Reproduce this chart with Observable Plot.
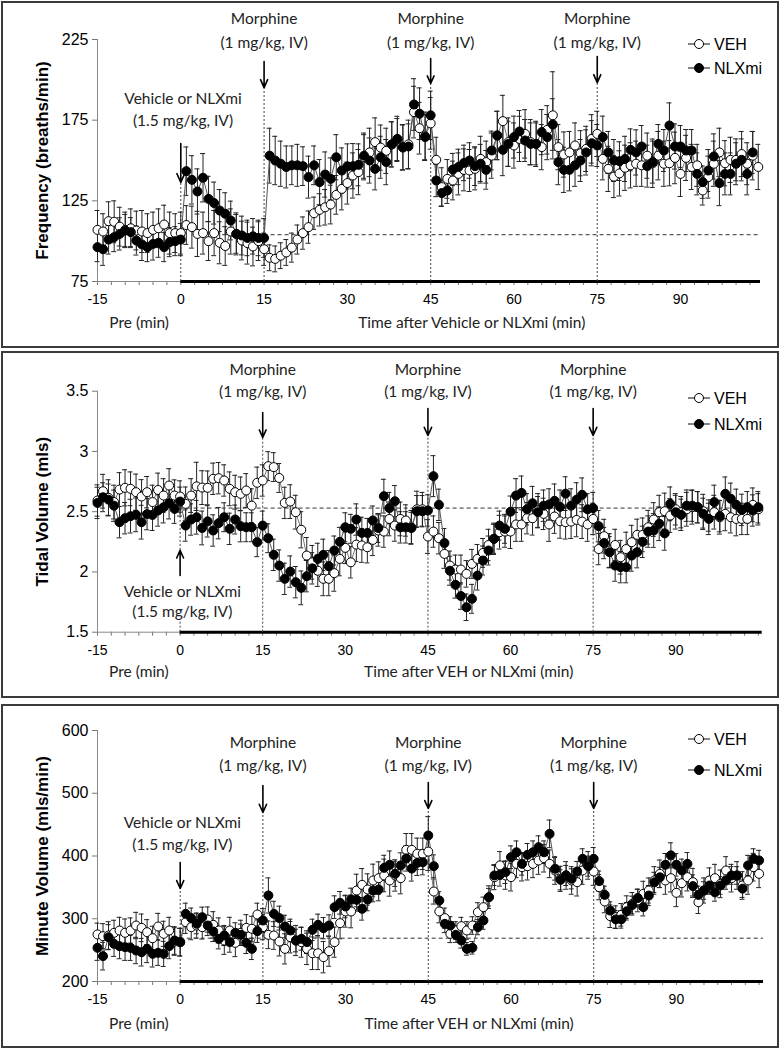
<!DOCTYPE html>
<html><head><meta charset="utf-8">
<script src="https://cdn.jsdelivr.net/npm/d3@7"></script>
<script src="https://cdn.jsdelivr.net/npm/@observablehq/plot@0.6"></script>
<style>
body{margin:0;background:#fff;width:784px;height:1050px;position:relative;overflow:hidden}
.panel{position:absolute;left:0;width:784px}
.panel svg{overflow:visible}
.box{position:absolute;border:2px solid #3a3a3a;box-sizing:border-box;pointer-events:none}
</style></head><body>
<div id="p1" class="panel" style="top:0px"></div>
<div id="p2" class="panel" style="top:347px"></div>
<div id="p3" class="panel" style="top:697px"></div>
<div class="box" style="left:1px;top:1px;width:778px;height:347px"></div>
<div class="box" style="left:1px;top:351px;width:778px;height:347px"></div>
<div class="box" style="left:1px;top:704px;width:778px;height:344px"></div>
<script>
// ---------- DATA ----------
const xTickLabels = [-15, 0, 15, 30, 45, 60, 75, 90];
const seriesNames = ["VEH", "NLXmi"];

// Frequency (breaths/min), one value per minute from -15
const freqVEH = [
  107,106,112.4,112,109,107,108,106.6,106,105,107,108,110.3,105,105,
  105,110,108.7,104.5,105,100,105,99,97,106,104.5,100.4,98.8,96.7,100,
  95,89.7,89,91,93,96,101,105,108.7,117.3,119.4,121,122.7,128.7,132.4,
  136,140.7,142.8,152,155,161.4,158,156,160,163,158,160,180,170,165,
  173,150.4,133.5,138.6,137.6,141.7,144.2,143.8,144.8,151,149,153,165.5,174.4,161.4,
  159.3,163.4,166.5,161.4,160.3,158.3,169,178,158.3,153.7,155,159.3,154.5,157.2,163.4,
  166.5,151,144.8,140,142,145.5,147,148,147,153,148.3,153,148,148.3,151.6,
  141.7,151.6,146,147,131.4,139.7,148,155,148.3,150.4,150.4,154,148,153,146
];
const freqVEHerr = [
  12,11,12,13,12,11,12,12,13,12,11,12,12,13,12,
  13,12,13,14,13,12,14,13,12,14,13,12,13,12,12,
  10,8,8,8,8,9,9,10,10,10,10,11,12,12,13,
  13,14,14,14,15,15,14,14,14,13,14,15,16,16,15,
  16,14,12,12,12,13,13,13,13,14,13,14,15,16,15,
  14,14,15,14,14,14,15,27,14,14,13,14,14,14,15,
  14,13,14,13,14,14,14,14,13,14,15,15,14,14,16,
  14,14,14,13,9,13,14,15,14,14,13,14,13,15,14
];
const freqNLX = [
  96.3,95,101,102.5,104.5,106.6,105.6,100.4,98,96.3,98.3,99,96.3,99.4,100,
  101,143.4,138,130.8,139.3,126.2,123.6,119,117,112.8,104.5,103.5,102,103,102,
  102,153,150,148,146,147,147,146.5,139.7,147,136.6,141.3,138.6,152,143.8,
  146.3,146.5,147.3,153,150,144.8,152,149,160,163.4,158.3,158.7,184.7,179,164.5,
  178,137.6,129.8,131.4,144.4,146,148.5,150,146.5,148,144.2,156.2,165.5,156.6,160.3,
  164.5,168,162.4,160.3,160.3,167.6,164.5,172.3,149,144.2,144.2,147,150,155,160.7,
  159.3,164.5,155,150,149.6,151,156.6,155,158.7,146.5,149,160.3,156.2,171.7,158.7,
  158.7,156.2,156.2,141.7,136.6,143.8,152.5,136,141.7,141.7,148,150.4,141.7,155
];
const freqNLXerr = [
  9,10,9,9,10,10,9,9,10,9,10,9,9,9,9,
  10,15,15,14,15,14,13,13,13,12,12,12,11,11,11,
  12,17,15,14,13,12,13,12,13,12,14,14,13,14,14,
  14,14,13,14,14,13,13,14,14,14,14,14,16,16,14,
  15,10,8,8,10,11,11,11,12,12,12,12,15,16,14,
  13,13,13,13,13,14,14,16,14,14,13,13,13,14,14,
  13,13,13,13,12,14,13,14,13,13,13,12,13,14,14,
  13,13,13,13,10,13,14,14,13,13,13,13,13,13
];

// Tidal volume (mls)
const tvVEH = [
  2.593,2.67,2.615,2.58,2.684,2.698,2.69,2.662,2.626,2.662,2.58,2.68,2.634,2.717,2.634,
  2.626,2.565,2.634,2.71,2.70,2.698,2.773,2.778,2.759,2.69,2.662,2.648,2.676,2.55,2.74,
  2.759,2.878,2.87,2.78,2.573,2.584,2.496,2.35,2.136,2.08,2.01,1.943,1.943,1.99,2.108,
  2.2,2.08,2.227,2.22,2.205,2.266,2.344,2.335,2.44,2.385,2.44,2.427,2.37,2.52,2.52,
  2.294,2.335,2.28,2.15,2.053,2.02,2.02,1.984,2.067,2.108,2.158,2.224,2.275,2.33,2.335,
  2.335,2.394,2.394,2.446,2.446,2.51,2.482,2.394,2.46,2.42,2.413,2.418,2.432,2.418,2.394,
  2.44,2.19,2.297,2.178,2.224,2.122,2.19,2.247,2.308,2.308,2.371,2.435,2.496,2.504,2.468,
  2.52,2.496,2.52,2.537,2.537,2.504,2.468,2.496,2.454,2.482,2.454,2.44,2.44,2.44,2.557,2.52
];
const tvVEHerr = [
  .13,.14,.15,.14,.14,.15,.14,.15,.14,.13,.14,.14,.14,.14,.13,
  .13,.14,.14,.2,.14,.14,.13,.13,.13,.14,.14,.14,.14,.14,.13,
  .13,.12,.12,.12,.13,.14,.14,.15,.15,.14,.13,.14,.14,.15,.14,
  .13,.13,.14,.14,.13,.13,.13,.13,.14,.13,.14,.13,.14,.15,.14,
  .14,.13,.13,.12,.12,.12,.12,.11,.12,.12,.12,.13,.13,.14,.13,
  .14,.14,.14,.13,.14,.14,.13,.14,.14,.14,.14,.14,.14,.14,.14,
  .13,.13,.14,.14,.13,.14,.14,.14,.13,.14,.14,.14,.14,.15,.14,
  .13,.13,.14,.14,.13,.14,.13,.14,.14,.14,.13,.14,.13,.13,.14,.13
];
const tvNLX = [
  2.573,2.62,2.60,2.55,2.413,2.446,2.463,2.474,2.413,2.48,2.474,2.51,2.537,2.57,2.523,
  2.584,2.385,2.435,2.454,2.365,2.42,2.344,2.405,2.454,2.358,2.435,2.38,2.371,2.371,2.247,
  2.385,2.28,2.142,2.053,1.943,2.003,1.915,1.868,1.965,2.03,2.108,2.142,2.047,2.178,2.25,
  2.371,2.358,2.435,2.324,2.324,2.427,2.365,2.629,2.53,2.587,2.37,2.37,2.365,2.504,2.504,
  2.51,2.795,2.557,2.24,2.01,1.893,1.80,1.707,1.777,1.97,2.095,2.178,2.275,2.385,2.358,
  2.50,2.634,2.656,2.52,2.57,2.496,2.55,2.56,2.59,2.54,2.65,2.55,2.60,2.64,2.52,
  2.53,2.38,2.24,2.164,2.053,2.04,2.04,2.136,2.164,2.25,2.335,2.344,2.40,2.32,2.565,
  2.496,2.474,2.55,2.55,2.537,2.482,2.44,2.58,2.463,2.648,2.607,2.557,2.515,2.537,2.51,2.537
];
const tvNLXerr = [
  .13,.12,.13,.13,.13,.13,.14,.14,.14,.13,.13,.13,.13,.13,.12,
  .12,.13,.13,.14,.14,.13,.13,.13,.12,.13,.12,.13,.12,.12,.12,
  .12,.12,.13,.13,.13,.13,.13,.14,.13,.13,.13,.13,.13,.12,.12,
  .12,.12,.13,.13,.12,.12,.12,.14,.13,.13,.13,.13,.13,.13,.13,
  .13,.17,.13,.12,.12,.11,.11,.11,.12,.12,.12,.12,.12,.12,.12,
  .13,.14,.14,.13,.14,.13,.13,.13,.14,.14,.14,.14,.14,.14,.13,
  .13,.13,.13,.13,.13,.13,.13,.13,.13,.13,.13,.14,.14,.14,.14,
  .14,.13,.13,.13,.13,.13,.13,.14,.13,.14,.13,.13,.13,.13,.13,.13
];

// Minute volume (mls/min)
const mvVEH = [
  275,272.2,273.3,277.6,281.3,277.6,281.3,289.2,285.5,278.6,269,287.6,276,281.3,263.7,
  262.7,294.6,286.6,289.2,286.6,298.8,290.3,281.3,265.3,281.3,261.6,277.6,285.5,284,306.8,
  286.6,274.4,273.3,263.7,252,270.6,265.3,262.7,252,245,245,238.8,248.3,262.7,293,
  311.6,311.6,345,354,346.6,361,364.7,369,361,369,364.7,409.8,409.8,403.5,403.5,
  407,343.4,311.6,301,276,281.3,288.2,281.3,289.2,310.5,318.5,334.4,366.3,385,369,
  366.3,387.5,382.2,383.8,387.5,392.8,396.5,387.5,376.9,363.6,369,361,358.3,376.9,385,
  375.3,350.3,327.5,304.1,302.5,306.2,318.5,323.8,329.1,339.7,345,361,371.6,361,364.7,
  341.3,356.7,366.3,358.3,326.4,345,361,364.7,355.6,376.9,364.7,369,353,361,382.2,371.6
];
const mvVEHerr = [
  18,20,22,20,21,22,20,21,22,20,19,21,20,21,22,
  22,18,20,20,19,20,21,20,22,21,22,20,21,20,18,
  20,22,22,23,24,25,24,24,25,26,26,25,24,24,25,
  25,26,26,26,25,26,26,26,25,25,25,26,26,25,25,
  30,20,18,16,14,14,14,14,14,15,16,18,20,22,22,
  22,22,22,22,22,22,22,22,22,20,22,22,22,22,22,
  22,20,18,18,18,18,18,18,18,20,20,22,22,22,22,
  22,22,22,22,18,20,20,22,22,22,22,22,22,22,22,22
];
const mvNLX = [
  253.7,240.4,270.6,260,256.3,254.7,253.6,249.4,246.7,252.1,244.1,245.7,244,256.3,265.3,
  262.7,307.8,301,292,302.5,289.2,279.7,268,273.3,262.7,277.6,274.4,261.6,252,280.2,
  297.2,337.1,307.8,301,287.6,281.3,265.3,268,262.7,282.3,290.3,285,289.2,318.5,325.4,
  319.5,330.7,330.1,315.8,330.7,345,346.6,381.1,386,371.6,385,396,380,389,390,
  432.7,383.8,329.1,291.9,289.2,274.4,265.3,252,253.7,286.6,297.2,334.4,369,370,374.2,
  398.1,406,387.5,401.9,406,414.1,406,435.3,379.6,362,369,363.6,375.3,395.5,383.8,
  395.5,360,338,313,299,299,312,322,333,318.5,337,358,366,386,401,
  386,377,387.5,352,338,345,353,342,353,361,369,369,348,385,395.5,393
];
const mvNLXerr = [
  20,22,20,20,20,21,20,21,22,22,21,20,20,20,22,
  22,17,16,16,16,16,16,16,16,16,16,17,17,17,18,
  19,28,20,19,18,18,18,18,18,17,17,17,17,18,18,
  18,18,18,18,18,18,18,20,22,20,20,20,20,20,20,
  30,18,14,14,14,12,12,10,10,12,14,14,16,18,18,
  18,18,18,18,18,18,18,22,18,16,16,16,16,16,16,
  18,16,14,14,14,14,14,14,14,14,16,16,16,18,20,
  18,18,18,18,14,14,14,14,14,14,14,14,14,16,16,16
];

// Annotation labels
const morphineTimes = [15, 45, 75];
const morphineText = ["Morphine", "(1 mg/kg, IV)"];
const vehicleText = ["Vehicle or NLXmi", "(1.5 mg/kg, IV)"];

// ---------- DRAW ----------
function table(vals, errs) {
  return vals.map((v, i) => ({x: -15 + i, y: v, e: errs[i]}));
}

const panels = [
  {id: "p1", height: 345, mt: 39, mb: 64, mr: 24, xMax: 104.4, yDomain: [75, 225], yTicks: [75, 125, 175, 225],
   yLabel: "Frequency (breaths/min)", dashY: 104, dashX1: 15,
   veh: table(freqVEH, freqVEHerr), nlx: table(freqNLX, freqNLXerr),
   xTitle: "Time after Vehicle or NLXmi (min)", titleDy: 46, legendY: [44, 68],
   arrows: [{x: 0, y1: 160.5, y2: 136.4}, {x: 15, y1: 211.4, y2: 195.2}, {x: 45, y1: 213.2, y2: 197.7}, {x: 75, y1: 214.5, y2: 198.3}],
   vlines: [{x: 0, y1: 75, y2: 136.4}, {x: 15, y1: 75, y2: 195.2}, {x: 45, y1: 75, y2: 197.7}, {x: 75, y1: 75, y2: 198.3}],
   morphY: [237.4, 223.1], vehX: 0.4, vehY: [187.8, 174.2]},
  {id: "p2", height: 347, mt: 43.7, mb: 62.3, mr: 22.3, xMax: 105.7, yDomain: [1.5, 3.5], yTicks: [1.5, 2, 2.5, 3, 3.5],
   yLabel: "Tidal Volume (mls)", dashY: 2.53, dashX1: 0,
   veh: table(tvVEH, tvVEHerr), nlx: table(tvNLX, tvNLXerr),
   xTitle: "Time after VEH or NLXmi (min)", titleDy: 45, legendY: [51, 77],
   arrows: [{x: 0, y1: 1.971, y2: 2.179}, {x: 15, y1: 3.323, y2: 3.116}, {x: 45, y1: 3.356, y2: 3.132}, {x: 75, y1: 3.356, y2: 3.132}],
   vlines: [{x: 0, y1: 2.179, y2: 2.6}, {x: 0, y1: 1.5, y2: 1.6}, {x: 15, y1: 1.5, y2: 3.116}, {x: 45, y1: 1.5, y2: 3.132}, {x: 75, y1: 1.5, y2: 3.132}],
   morphY: [3.672, 3.489], vehX: 0.4, vehY: [1.83, 1.664]},
  {id: "p3", height: 353, mt: 33, mb: 69, mr: 21, xMax: 105.8, yDomain: [200, 600], yTicks: [200, 300, 400, 500, 600],
   yLabel: "Minute Volume (mls/min)", dashY: 269, dashX1: 0,
   veh: table(mvVEH, mvVEHerr), nlx: table(mvNLX, mvNLXerr),
   xTitle: "Time after VEH or NLXmi (min)", titleDy: 47, legendY: [42, 73],
   arrows: [{x: 0, y1: 389.6, y2: 348.2}, {x: 15, y1: 512.4, y2: 469.3}, {x: 45, y1: 517.1, y2: 475.7}, {x: 75, y1: 517.1, y2: 475.7}],
   vlines: [{x: 0, y1: 200, y2: 348.2}, {x: 15, y1: 200, y2: 469.3}, {x: 45, y1: 200, y2: 475.7}, {x: 75, y1: 200, y2: 475.7}],
   morphY: [579.3, 542.6], vehX: 0.4, vehY: [451.8, 416.7]}
];

const calibri = "Lato, 'Open Sans', sans-serif";
const arial = "'Liberation Sans', Arial, sans-serif";

for (const p of panels) {
  const [y0, y1] = p.yDomain;
  const minor = d3.range(-15, p.xMax, 2.5);
  const annText = [];
  for (const t of morphineTimes) {
    annText.push({x: t, y: p.morphY[0], text: morphineText[0]});
    annText.push({x: t, y: p.morphY[1], text: morphineText[1]});
  }
  annText.push({x: p.vehX, y: p.vehY[0], text: vehicleText[0]});
  annText.push({x: p.vehX, y: p.vehY[1], text: vehicleText[1]});

  const errMarks = [];
  for (const s of [p.veh, p.nlx]) {
    errMarks.push(Plot.ruleX(s, {x: "x", y1: d => d.y - d.e, y2: d => d.y + d.e, stroke: "#222", strokeWidth: 1}));
    errMarks.push(Plot.ruleY(s, {y: d => d.y + d.e, x1: d => d.x - 0.45, x2: d => d.x + 0.45, stroke: "#222", strokeWidth: 1}));
    errMarks.push(Plot.ruleY(s, {y: d => d.y - d.e, x1: d => d.x - 0.45, x2: d => d.x + 0.45, stroke: "#222", strokeWidth: 1}));
  }

  const svg = Plot.plot({
    width: 784, height: p.height,
    marginTop: p.mt, marginBottom: p.mb, marginLeft: 97, marginRight: p.mr,
    x: {domain: [-15, p.xMax]},
    y: {domain: p.yDomain},
    style: {fontFamily: arial, fontSize: "14px", background: "transparent", color: "#000", overflow: "visible"},
    marks: [
      // axes
      Plot.axisY({ticks: p.yTicks, tickSize: 5, tickPadding: 4, tickFormat: d => String(d), label: null, fontSize: 16, stroke: "#777"}),
      Plot.axisX({ticks: minor, tickSize: 4, tickFormat: () => "", label: null, stroke: "#777"}),
      Plot.axisX({ticks: xTickLabels, tickSize: 0, tickPadding: 13, tickFormat: d => String(d), label: null, fontSize: 14}),
      Plot.ruleX([-15], {y1: y0, y2: y1, stroke: "#888", strokeWidth: 1}),
      Plot.ruleY([y0], {x1: -15, x2: 0, stroke: "#888", strokeWidth: 1}),
      Plot.ruleY([y0], {x1: 0, x2: p.xMax, stroke: "#000", strokeWidth: 3}),
      // reference lines
      Plot.ruleY([p.dashY], {x1: p.dashX1, x2: p.xMax, stroke: "#333", strokeWidth: 1, strokeDasharray: "4,3"}),
      Plot.ruleX(p.vlines, {x: "x", y1: "y1", y2: "y2", stroke: "#444", strokeWidth: 1, strokeDasharray: "2,2"}),
      Plot.arrow(p.arrows, {x: "x", y1: "y1", y2: "y2", stroke: "#000", strokeWidth: 1.6, headLength: 9, headAngle: 48}),
      Plot.text(annText, {x: "x", y: "y", text: "text", fontFamily: calibri, fontSize: 15.5, fill: "#222"}),
      // titles
      Plot.text([p.yLabel], {frameAnchor: "left", dx: -55, rotate: -90, textAnchor: "middle", fontWeight: "bold", fontSize: 17, fontFamily: arial, fill: "#000"}),
      Plot.text(["Pre (min)"], {x: -7.5, frameAnchor: "bottom", dy: p.titleDy, textAnchor: "middle", fontFamily: calibri, fontSize: 15.5, fill: "#222"}),
      Plot.text([p.xTitle], {x: 52.4, frameAnchor: "bottom", dy: p.titleDy, textAnchor: "middle", fontFamily: calibri, fontSize: 15.5, fill: "#222"}),
      // data
      ...errMarks,
      Plot.line(p.veh, {x: "x", y: "y", stroke: "#777", strokeWidth: 1}),
      Plot.line(p.nlx, {x: "x", y: "y", stroke: "#555", strokeWidth: 1}),
      Plot.dot(p.veh, {x: "x", y: "y", r: 4.5, fill: "#fff", stroke: "#000", strokeWidth: 1}),
      Plot.dot(p.nlx, {x: "x", y: "y", r: 4.5, fill: "#000", stroke: "#000", strokeWidth: 1})
    ]
  });

  // legend
  const g = d3.select(svg).append("g").attr("text-anchor", "start");
  seriesNames.forEach((name, i) => {
    const y = p.legendY[i];
    g.append("line").attr("x1", 688).attr("x2", 710).attr("y1", y).attr("y2", y).attr("stroke", "#333").attr("stroke-width", 1.2);
    g.append("circle").attr("cx", 699).attr("cy", y).attr("r", 4.5)
      .attr("fill", i === 0 ? "#fff" : "#000").attr("stroke", "#000");
    g.append("text").attr("x", 714).attr("y", y).attr("dy", "0.35em").attr("text-anchor", "start")
      .attr("font-family", arial).attr("font-size", 16).attr("fill", "#000").text(name);
  });

  document.getElementById(p.id).appendChild(svg);
}
</script>
</body></html>
